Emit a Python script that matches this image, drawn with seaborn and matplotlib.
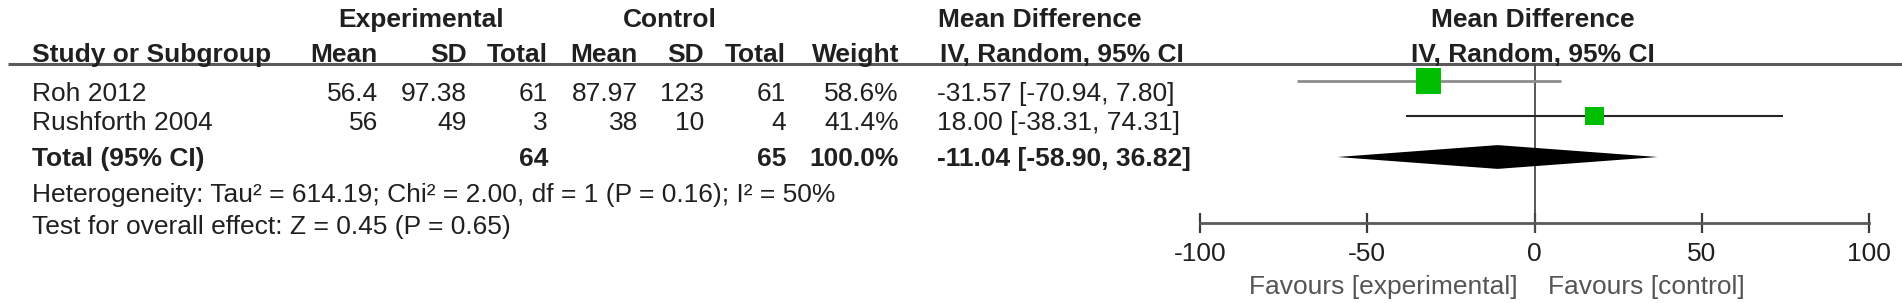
import matplotlib
matplotlib.use("Agg")
import matplotlib.pyplot as plt
import seaborn as sns
import pandas as pd

# ---------------- data ----------------
studies = ["Roh 2012", "Rushforth 2004"]
exp_mean = [56.4, 56]
exp_sd = [97.38, 49]
exp_n = [61, 3]
ctl_mean = [87.97, 38]
ctl_sd = [123, 10]
ctl_n = [61, 4]
weights = [58.6, 41.4]
md = [-31.57, 18.00]
ci_lo = [-70.94, -38.31]
ci_hi = [7.80, 74.31]

total_exp_n = 64
total_ctl_n = 65
total_weight = 100.0
total_md = -11.04
total_lo = -58.90
total_hi = 36.82

heterogeneity = "Heterogeneity: Tau\u00b2 = 614.19; Chi\u00b2 = 2.00, df = 1 (P = 0.16); I\u00b2 = 50%"
overall = "Test for overall effect: Z = 0.45 (P = 0.65)"
xticks = [-100, -50, 0, 50, 100]
fav_left = "Favours [experimental]"
fav_right = "Favours [control]"

df = pd.DataFrame({"study": studies, "md": md, "lo": ci_lo, "hi": ci_hi,
                   "weight": weights, "row": list(range(len(studies)))})

# ---------------- style ----------------
sns.set_style("white")
plt.rcParams["font.family"] = ["Liberation Sans", "DejaVu Sans"]
FS = 19.0
TXT = "#202020"

W, H = 1902, 303
fig = plt.figure(figsize=(W / 100, H / 100), dpi=100)
fig.patch.set_facecolor("white")

# text layer in pixel units
tx = fig.add_axes([0, 0, 1, 1])
tx.set_xlim(0, W)
tx.set_ylim(H, 0)
tx.axis("off")


def t(x, y, s, ha="left", bold=False, color=TXT):
    tx.text(x, y, s, ha=ha, va="baseline", fontsize=FS, color=color,
            fontweight="bold" if bold else "normal")


fmt = lambda v: f"{v:g}"

# headers
y_h1, y_h2 = 27, 62
t(421, y_h1, "Experimental", ha="center", bold=True)
t(670, y_h1, "Control", ha="center", bold=True)
t(938, y_h1, "Mean Difference", bold=True)
t(1533, y_h1, "Mean Difference", ha="center", bold=True)
t(32, y_h2, "Study or Subgroup", bold=True)
col_right = [378, 467, 548, 638, 704, 786, 899]
for xr, lab in zip(col_right, ["Mean", "SD", "Total", "Mean", "SD", "Total", "Weight"]):
    t(xr, y_h2, lab, ha="right", bold=True)
t(940, y_h2, "IV, Random, 95% CI", bold=True)
t(1533, y_h2, "IV, Random, 95% CI", ha="center", bold=True)

# rule under header
tx.plot([8, W], [63.5, 63.5], color="#5a5a5a", lw=2.2, solid_capstyle="butt")

# study rows
row_base = [101, 130]
for i in range(len(studies)):
    yb = row_base[i]
    t(32, yb, studies[i])
    vals = [fmt(exp_mean[i]), fmt(exp_sd[i]), str(exp_n[i]), fmt(ctl_mean[i]),
            fmt(ctl_sd[i]), str(ctl_n[i]), f"{weights[i]:.1f}%"]
    for xr, v in zip(col_right, vals):
        t(xr, yb, v, ha="right")
    t(937, yb, f"{md[i]:.2f} [{ci_lo[i]:.2f}, {ci_hi[i]:.2f}]")

# total row
y_tot = 166
t(32, y_tot, "Total (95% CI)", bold=True)
t(col_right[2], y_tot, str(total_exp_n), ha="right", bold=True)
t(col_right[5], y_tot, str(total_ctl_n), ha="right", bold=True)
t(col_right[6], y_tot, f"{total_weight:.1f}%", ha="right", bold=True)
t(937, y_tot, f"{total_md:.2f} [{total_lo:.2f}, {total_hi:.2f}]", bold=True)
t(32, 202, heterogeneity)
t(32, 234, overall)

# ---------------- forest panel ----------------
x0_px, x1_px = 1200, 1869
ax = fig.add_axes([x0_px / W, 0, (x1_px - x0_px) / W, 1])
ax.set_facecolor("none")
# row r sits at pixel 81 + 35*r
ylim = ((H - 81) / 35, (0 - 81) / 35)
ax.set_xlim(-100, 100)
ax.set_ylim(*ylim)

line_cols = ["#8c8c8c", "#262626"]
line_w = [2.0, 1.5]
for i, r in df.iterrows():
    ax.hlines(r["row"], r["lo"], r["hi"], color=line_cols[i], lw=line_w[i], zorder=2)

sns.scatterplot(data=df, x="md", y="row", size="weight", sizes=(185, 325),
                marker="s", color="#00bf00", linewidth=0, legend=False,
                ax=ax, zorder=3)

# diamond for the pooled estimate
dr = (157 - 81) / 35
hh = 0.34
ax.fill([total_lo, total_md, total_hi, total_md],
        [dr, dr - hh, dr, dr + hh], color="black", lw=0, zorder=3)

axis_row = (222.5 - 81) / 35
# zero line
ax.vlines(0, (63.5 - 81) / 35, axis_row + 10 / 35, color="#4a4a4a", lw=1.3, zorder=1)

ax.set_xlim(-100, 100)
ax.set_ylim(*ylim)
ax.set_xlabel("")
ax.set_ylabel("")
ax.set_yticks([])
for s in ["top", "left", "right"]:
    ax.spines[s].set_visible(False)
sp = ax.spines["bottom"]
sp.set_visible(True)
sp.set_position(("data", axis_row))
sp.set_bounds(-100, 100)
sp.set_color("#5a5a5a")
sp.set_linewidth(2.0)
ax.set_xticks(xticks)
ax.set_xticklabels([str(v) for v in xticks])
ax.tick_params(axis="x", which="major", bottom=True, top=False, labelbottom=True,
               direction="inout", length=13.7, width=1.6,
               color="#3a3a3a", labelsize=FS, labelcolor=TXT, pad=7.5)

t(1518, 294, fav_left, ha="right", color="#555555")
t(1548, 294, fav_right, ha="left", color="#555555")

fig.savefig("out.png", dpi=100, facecolor="white")
